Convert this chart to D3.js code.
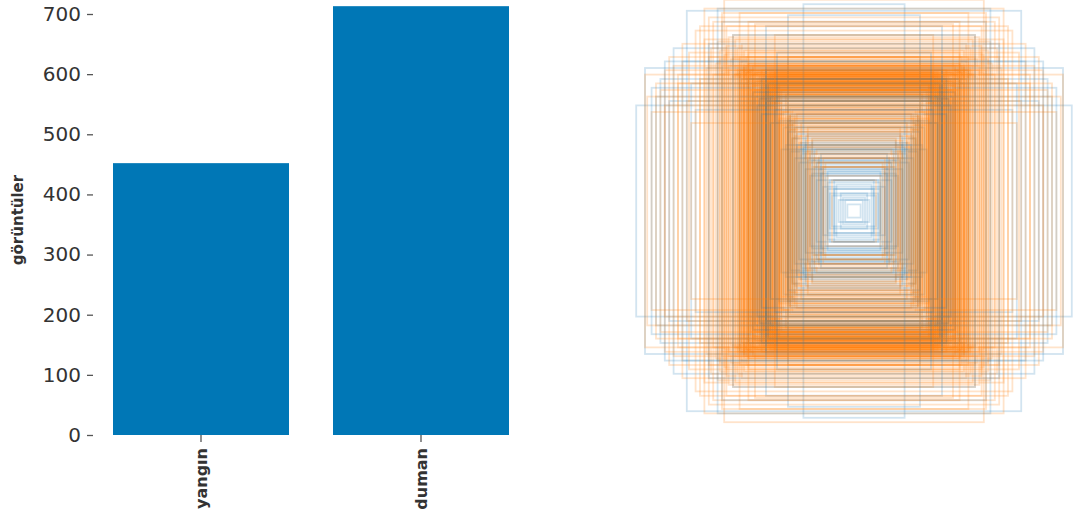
<!DOCTYPE html>
<html>
<head>
<meta charset="utf-8">
<script src="https://cdn.jsdelivr.net/npm/d3@7"></script>
<style>
  body { margin: 0; background: #fff; }
  text { font-family: "DejaVu Sans", sans-serif; }
</style>
</head>
<body>
<svg id="chart" width="1076" height="522"></svg>
<script>
// Image counts per class
const categories = ["yangın", "duman"];
const imageCounts = [452, 713];
const yTicks = [0, 100, 200, 300, 400, 500, 600, 700];
const yLabel = "görüntüler";

// Bounding box sizes [width, height] in percent of the image size
const yanginBoxes = [
  [3,3],[5,6],[7,5],[9,10],[11,8],[12,13],[14,11],[15,17],[17,14],[18,20],
  [20,16],[6,8],[8,12],[10,7],[13,16],[16,19],[19,23],[4,5],[11,14],[14,18],
  [17,22],[12,10],[9,14],[15,21],[19,17],
  [14,20],[16,24],[18,28],[20,26],[22,30],[12,18],[15,26],[19,32],[21,24],[17,22],
  [21,23],[22,19],[24,26],[25,22],[26,30],[27,24],[28,33],[29,27],[30,36],[31,30],
  [32,38],[33,28],[34,41],[23,29],[26,35],[28,40],[24,31],[27,38],[29,43],[25,28],
  [22,34],[30,41],
  [36,46],[38,40],[40,50],[42,44],[39,58],[44,48],[46,54],[48,60],[45,52],[52,64],
  [38,52],[42,60],[36,50],[43,51],[40,64],
  [95,65],[99,48],[23,94],[30,89],[76,91],[88,60],[82,74],[72,46],[78,68],[90,52],
  [60,86],[40,84],[74,58],[84,50],[66,76],[55,80],[86,68],[35,72],[92,56],[62,92]
];
const dumanBoxes = [
  [38,55],[41,58],[36,52],[44,60],[40,54],[33,50],[46,62],[39,57],[42,53],[35,56],
  [43,59],[37,51],[40,61],[45,55],[34,58],[41,52],[38,63],[47,57],[36,54],[42,60],
  [39,50],[44,56],[31,53],[40,59],[43,62],[37,55],[46,58],[35,60],[41,56],[38,49],
  [42,64],[36,57],[40,52],[45,61],[33,55],[39,60],[44,53],[37,62],[41,55],[48,59],
  [34,51],[40,57],[43,56],[38,61],[46,54],[36,59],[42,58],[39,53],[44,63],[35,54],
  [41,60],[37,58],[30,48],[43,51],[40,65],[38,56],[45,57],[36,61],[42,54],[39,58],
  [32,46],[47,64],[40,55],[35,52],[44,58],[38,59],[41,62],[37,53],[43,55],[29,44],
  [39,56],[46,60],[34,57],[42,52],[40,58],[36,63],[45,59],[38,54],[41,57],[33,48],
  [44,55],[37,60],[40,50],[43,61],[35,58],[42,56],[39,62],[47,55],[36,50],[41,59],
  [38,58],[45,63],[31,47],[40,56],[43,54],[37,57],[42,61],[34,53],[46,66],[39,55],
  [41,53],[36,56],[44,59],[38,52],[40,60],[48,62],[35,49],[42,57],[39,61],[43,58],
  [28,40],[25,36],[22,32],[30,42],[26,38],[20,28],[27,34],[24,40],[29,37],[18,26],
  [23,30],[26,44],[21,35],[28,33],[16,22],[25,31],[30,39],[19,33],[27,42],[22,27],
  [24,35],[29,44],[14,20],[26,29],[21,38],
  [12,16],[15,20],[18,24],[20,30],[22,26],[17,28],[13,22],[19,20],[24,32],[16,25],
  [21,29],[23,24],[10,14],[14,24],[20,22],
  [32,45],[34,48],[28,42],[31,40],[33,47],[27,38],[30,46],[34,44],[29,41],[32,48],
  [26,36],[31,43],[33,39],[28,46],[30,37],[34,42],[27,44],[32,41],[29,47],[31,38],
  [33,45],[25,34],[30,43],[28,36],[34,46],
  [46,60],[48,64],[50,62],[47,58],[49,66],[51,63],[46,65],[52,61],[48,59],[50,67],
  [47,62],[53,65],[49,60],[46,57],[51,68],[48,61],[50,58],[47,66],[52,64],[49,63],
  [45,59],[51,60],[48,67],[50,64],[46,62],
  [50,66],[55,62],[48,72],[60,64],[52,70],[58,75],[49,63],[62,68],[54,78],[51,60],
  [57,66],[53,74],[64,62],[56,69],[59,71],[50,65],[55,80],[61,73],[52,68],[57,64],
  [49,70],[63,67],[54,62],[58,72],[66,70],[51,76],[60,66],[53,64],[65,74],[56,61],
  [48,67],[59,63],[62,77],[55,70],[50,73],[67,65],[57,79],[52,63],[61,69],[54,66],
  [59,96],[52,90],[66,88],[45,85],[72,82],[36,80],[70,60],[80,58],[88,55],[95,62],
  [84,70],[76,50],[92,45],[78,76],[68,92],[30,70],[74,40],[86,64],[64,86],[70,84],
  [82,66],[90,58],[60,90],[75,72],[48,86],[94,52],[68,78],[80,62],[58,84],[86,48]
];
const classColors = ["#1f77b4", "#ff7f0e"];
const classOpacity = [0.2, 0.22];

const svg = d3.select("#chart");

// ---- Bar chart of image counts ----
const x = d3.scaleBand().domain(categories).range([91, 531]).paddingInner(0.2).paddingOuter(0.1);
const y = d3.scaleLinear().domain([0, 700]).range([435, 14]);

svg.append("g").selectAll("rect")
  .data(categories)
  .join("rect")
  .attr("x", d => x(d))
  .attr("width", x.bandwidth())
  .attr("y", (d, i) => y(imageCounts[i]))
  .attr("height", (d, i) => y(0) - y(imageCounts[i]))
  .attr("fill", "#0077b6");

const yAxis = svg.append("g")
  .attr("transform", "translate(93,0)")
  .call(d3.axisLeft(y).tickValues(yTicks).tickSize(6).tickPadding(6));
yAxis.select(".domain").remove();
yAxis.selectAll(".tick line").attr("stroke", "#555").attr("stroke-width", 1.3);
yAxis.selectAll(".tick text")
  .attr("fill", "#333")
  .style("font-size", "20px")
  .style("font-family", "DejaVu Sans");

const xAxis = svg.append("g")
  .attr("transform", "translate(0,435)")
  .call(d3.axisBottom(x).tickSize(7).tickPadding(0));
xAxis.select(".domain").remove();
xAxis.selectAll(".tick line").attr("stroke", "#555").attr("stroke-width", 1.3);
xAxis.selectAll(".tick text")
  .attr("fill", "#333")
  .attr("text-anchor", "end")
  .attr("y", 0).attr("x", 0).attr("dy", "0.35em")
  .attr("transform", "translate(0,13) rotate(-90)")
  .style("font-size", "16px")
  .style("font-weight", "bold")
  .style("font-family", "DejaVu Sans");

svg.append("text")
  .attr("transform", "translate(23,220) rotate(-90)")
  .attr("text-anchor", "middle")
  .attr("fill", "#333")
  .style("font-size", "15px")
  .style("font-weight", "bold")
  .text(yLabel);

// ---- Bounding box outlines, all centred on one point ----
// the two classes are interleaved so neither one hides the other
const size = d3.scaleLinear().domain([0, 100]).range([0, 440]);
const cx = 854, cy = 211;

const boxes = []
  .concat(yanginBoxes.map((b, i) => ({ cls: 0, w: b[0], h: b[1], k: (i + 0.5) / yanginBoxes.length })))
  .concat(dumanBoxes.map((b, i) => ({ cls: 1, w: b[0], h: b[1], k: i / dumanBoxes.length })))
  .sort((a, b) => a.k - b.k);

svg.append("g").selectAll("rect")
  .data(boxes)
  .join("rect")
  .attr("x", d => cx - size(d.w) / 2)
  .attr("y", d => cy - size(d.h) / 2)
  .attr("width", d => size(d.w))
  .attr("height", d => size(d.h))
  .attr("fill", "none")
  .attr("stroke", d => classColors[d.cls])
  .attr("stroke-opacity", d => classOpacity[d.cls])
  .attr("stroke-width", 1.8);
</script>
</body>
</html>
